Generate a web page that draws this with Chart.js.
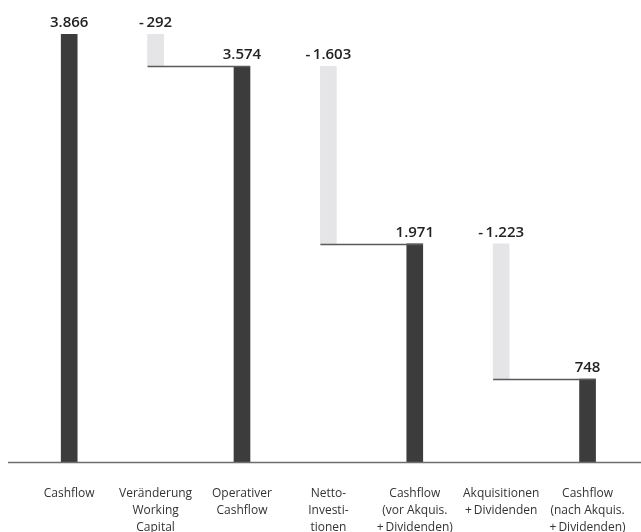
<!DOCTYPE html>
<html>
<head>
<meta charset="utf-8">
<script src="https://cdn.jsdelivr.net/npm/chart.js@4.4.1/dist/chart.umd.min.js"></script>
<style>
    html, body { margin: 0; padding: 0; background: #fff; }
    #wrap { width: 641px; height: 532px; position: relative; }
</style>
</head>
<body>
<div id="wrap"><canvas id="chart"></canvas></div>
<script>
const categories = [
    ['Cashflow'],
    ['Veränderung', 'Working', 'Capital'],
    ['Operativer', 'Cashflow'],
    ['Netto-', 'Investi-', 'tionen'],
    ['Cashflow', '(vor Akquis.', '+\u2009Dividenden)'],
    ['Akquisitionen', '+\u2009Dividenden'],
    ['Cashflow', '(nach Akquis.', '+\u2009Dividenden)']
];
const values = [3866, -292, 3574, -1603, 1971, -1223, 748];
const isTotal = [true, false, true, false, true, false, true];

const totalColor = '#3c3c3c';
const changeColor = '#e5e5e7';

// floating ranges for the waterfall
let running = 0;
const ranges = values.map((v, i) => {
    if (isTotal[i]) {
        running = v;
        return [0, v];
    }
    const from = running;
    running = running + v;
    return [running, from];
});

function formatValue(v) {
    const s = Math.abs(v).toString().replace(/\B(?=(\d{3})+(?!\d))/g, '.');
    return v < 0 ? '-\u2009' + s : s;
}

const waterfallPlugin = {
    id: 'waterfall',
    afterDatasetsDraw(chart) {
        const ctx = chart.ctx;
        const meta = chart.getDatasetMeta(0);
        const yScale = chart.scales.y;
        const area = chart.chartArea;

        ctx.save();
        // connector lines
        ctx.strokeStyle = '#5a5a5a';
        ctx.lineWidth = 1.3;
        meta.data.forEach((bar, i) => {
            if (isTotal[i] || !meta.data[i + 1]) return;
            const next = meta.data[i + 1];
            const y = Math.round(yScale.getPixelForValue(ranges[i][0])) + 0.5;
            ctx.beginPath();
            ctx.moveTo(bar.x - bar.width / 2, y);
            ctx.lineTo(next.x + next.width / 2, y);
            ctx.stroke();
        });

        // value labels
        ctx.fillStyle = '#222';
        ctx.font = '600 15px "Open Sans", sans-serif';
        ctx.textAlign = 'center';
        ctx.textBaseline = 'alphabetic';
        meta.data.forEach((bar, i) => {
            const top = yScale.getPixelForValue(ranges[i][1]);
            ctx.fillText(formatValue(values[i]), bar.x, top - 7);
        });

        // baseline
        ctx.strokeStyle = '#6e6e6e';
        ctx.lineWidth = 1.5;
        ctx.beginPath();
        ctx.moveTo(8, area.bottom + 0.5);
        ctx.lineTo(641, area.bottom + 0.5);
        ctx.stroke();
        ctx.restore();
    }
};

new Chart(document.getElementById('chart'), {
    type: 'bar',
    data: {
        labels: categories,
        datasets: [{
            data: ranges,
            backgroundColor: isTotal.map(t => t ? totalColor : changeColor),
            borderWidth: 0,
            borderSkipped: false,
            barThickness: 16
        }]
    },
    options: {
        responsive: true,
        maintainAspectRatio: false,
        animation: false,
        layout: { padding: { top: 34, left: 26, right: 6, bottom: 0 } },
        plugins: {
            legend: { display: false },
            tooltip: { enabled: false }
        },
        scales: {
            x: {
                grid: { display: false },
                border: { display: false },
                ticks: {
                    color: '#333',
                    padding: 15,
                    maxRotation: 0,
                    autoSkip: false,
                    font: { family: '"Open Sans", sans-serif', size: 12, lineHeight: '17px' }
                },
                afterFit(scale) { scale.height = 70; }
            },
            y: {
                display: false,
                min: 0,
                max: 3866
            }
        }
    },
    plugins: [waterfallPlugin]
});
</script>
</body>
</html>
